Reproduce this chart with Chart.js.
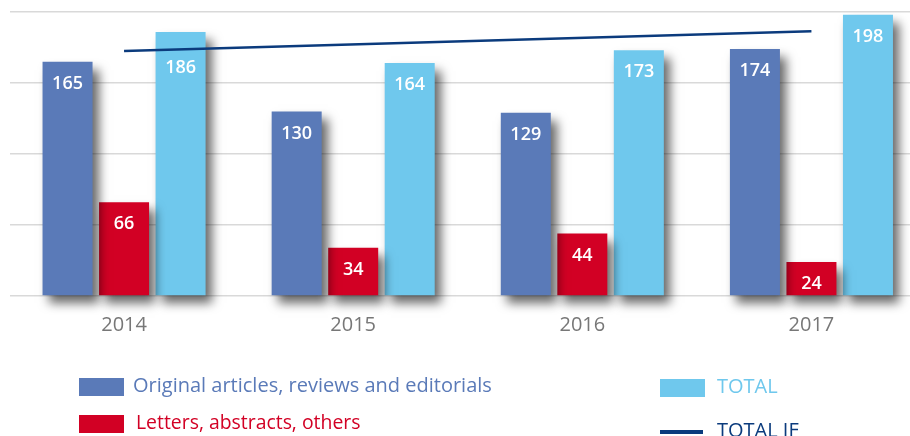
<!DOCTYPE html>
<html>
<head>
<meta charset="utf-8">
<script src="https://cdn.jsdelivr.net/npm/chart.js@4.4.1/dist/chart.umd.min.js"></script>
<style>
  html, body { margin: 0; padding: 0; background: #ffffff; overflow: hidden; width: 910px; height: 436px; }
  #wrap { position: absolute; left: 0; top: 0; width: 926px; height: 436px; }
  .leg { position: absolute; font-family: "Open Sans", sans-serif; font-size: 20px; line-height: 24px; white-space: nowrap; }
  .sw { position: absolute; width: 45px; height: 18px; }
  .ln { position: absolute; width: 43px; height: 4px; }
</style>
</head>
<body>
<div id="wrap"><canvas id="c" width="926" height="436"></canvas></div>

<div class="sw" style="left:79px; top:378px; background:#5a7ab8;"></div>
<div class="leg" style="left:133px; top:373px; color:#5a7ab8;">Original articles, reviews and editorials</div>
<div class="sw" style="left:79px; top:415px; background:#d20024;"></div>
<div class="leg" style="left:136px; top:410px; color:#d20024; font-size:19.4px;">Letters, abstracts, others</div>
<div class="sw" style="left:660px; top:379px; background:#6fc8ed;"></div>
<div class="leg" style="left:717px; top:374px; color:#6fc8ed;">TOTAL</div>
<div class="ln" style="left:660px; top:430px; background:#0b3b7d;"></div>
<div class="leg" style="left:717px; top:418px; color:#0b3b7d;">TOTAL IF</div>

<script>
const categories = ["2014", "2015", "2016", "2017"];
const originalArticles = [165, 130, 129, 174];
const lettersOthers = [66, 34, 44, 24];
const totals = [186, 164, 173, 198];
const totalIF = [172.5, null, null, 186.5];
const yTicks = [0, 50, 100, 150, 200];

const shadowPlugin = {
  id: 'barShadow',
  beforeDatasetDraw(chart, args) {
    const ds = chart.data.datasets[args.index];
    if (ds.type === 'line') return;
    const ctx = chart.ctx;
    ctx.save();
    ctx.shadowColor = 'rgba(0,0,0,0.6)';
    ctx.shadowBlur = 10;
    ctx.shadowOffsetX = 6;
    ctx.shadowOffsetY = 8;
  },
  afterDatasetDraw(chart, args) {
    const ds = chart.data.datasets[args.index];
    if (ds.type === 'line') return;
    chart.ctx.restore();
  }
};

const labelPlugin = {
  id: 'barLabels',
  afterDatasetsDraw(chart) {
    const ctx = chart.ctx;
    const lineIdx = chart.data.datasets.findIndex(d => d.type === 'line');
    const pts = chart.getDatasetMeta(lineIdx).data.filter((p, k) => chart.data.datasets[lineIdx].data[k] !== null);
    const p0 = pts[0], p1 = pts[pts.length - 1];
    const lineY = x => (x < p0.x || x > p1.x) ? null : p0.y + (p1.y - p0.y) * (x - p0.x) / (p1.x - p0.x);
    ctx.save();
    ctx.fillStyle = '#ffffff';
    ctx.font = '600 18px "Open Sans"';
    ctx.textAlign = 'center';
    ctx.textBaseline = 'middle';
    chart.data.datasets.forEach((ds, i) => {
      if (ds.type === 'line') return;
      const meta = chart.getDatasetMeta(i);
      meta.data.forEach((bar, j) => {
        let y = bar.y + 22;
        const ly = lineY(bar.x);
        if (ly !== null && Math.abs(ly - y) < 12) y = ly + 18;
        ctx.fillText(String(ds.data[j]), bar.x, y);
      });
    });
    ctx.restore();
  }
};

new Chart(document.getElementById('c'), {
  data: {
    labels: categories,
    datasets: [
      { type: 'line', label: 'TOTAL IF', data: totalIF, borderColor: '#0b3b7d', borderWidth: 2.5,
        pointRadius: 0, spanGaps: true, tension: 0, order: 0, clip: false },
      { type: 'bar', label: 'Original articles, reviews and editorials', data: originalArticles,
        backgroundColor: '#5a7ab8', order: 1, clip: false },
      { type: 'bar', label: 'Letters, abstracts, others', data: lettersOthers,
        backgroundColor: '#d20024', order: 1, clip: false },
      { type: 'bar', label: 'TOTAL', data: totals,
        backgroundColor: '#6fc8ed', order: 1, clip: false }
    ]
  },
  options: {
    responsive: false,
    animation: false,
    datasets: { bar: { categoryPercentage: 0.74, barPercentage: 0.885 } },
    layout: { padding: { left: 9.5, right: 0, top: 12, bottom: 0 } },
    plugins: { legend: { display: false }, tooltip: { enabled: false } },
    scales: {
      x: {
        offset: true,
        grid: { display: false },
        border: { display: false },
        ticks: { color: '#777777', font: { family: 'Open Sans', size: 20 }, padding: 9 },
        afterFit(s) { s.height = 140; }
      },
      y: {
        min: 0, max: 200,
        afterBuildTicks(s) { s.ticks = yTicks.map(v => ({ value: v })); },
        ticks: { display: false },
        grid: { color: '#d9d9d9', lineWidth: 1.5, drawTicks: false },
        border: { display: false },
        afterFit(s) { s.width = 0; }
      }
    }
  },
  plugins: [shadowPlugin, labelPlugin]
});
</script>
</body>
</html>
